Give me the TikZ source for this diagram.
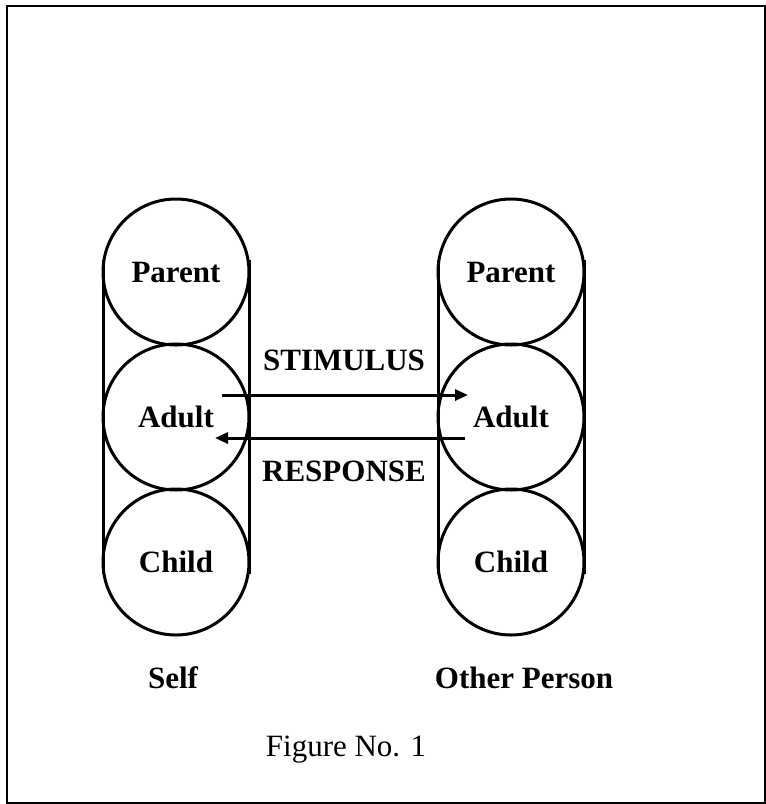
\documentclass[tikz,border=0pt]{standalone}
\usepackage{fontspec}
\setmainfont{Liberation Serif}
\usetikzlibrary{arrows.meta}
\begin{document}
\begin{tikzpicture}[x=1pt,y=-1pt,
  ego/.style={circle,draw,line width=3pt,minimum size=146pt,inner sep=0pt,outer sep=0pt,
    font=\fontsize{31}{36}\selectfont\bfseries},
  lbl/.style={font=\fontsize{31}{36}\selectfont\bfseries},
  side/.style={line width=3pt},
  arr/.style={line width=3pt,-{Triangle[length=13pt,width=11pt]}}]
\useasboundingbox (0,0) rectangle (766,804);
\draw[line width=2pt] (7,6) rectangle (765,803);
% Self column
\node[ego] (sp) at (176,272) {Parent};
\node[ego] (sa) at (176,417) {Adult};
\node[ego] (sc) at (176,562) {Child};
\draw[side] ([yshift=12pt]sp.west) -- ([yshift=-12pt]sc.west);
\draw[side] ([yshift=12pt]sp.east) -- ([yshift=-12pt]sc.east);
% Other column
\node[ego] (op) at (511,272) {Parent};
\node[ego] (oa) at (511,417) {Adult};
\node[ego] (oc) at (511,562) {Child};
\draw[side] ([yshift=12pt]op.west) -- ([yshift=-12pt]oc.west);
\draw[side] ([yshift=12pt]op.east) -- ([yshift=-12pt]oc.east);
% Transactions
\draw[arr] ([shift={(46,-22)}]sa.center) -- ([shift={(-43,-22)}]oa.center);
\draw[arr] ([shift={(-46,21)}]oa.center) -- ([shift={(39,21)}]sa.center);
\node[lbl] (stim) at (344,360) {STIMULUS};
\node[lbl] (resp) at (344,471) {RESPONSE};
% Captions
\node[lbl] (self) at (173,678) {Self};
\node[lbl] (other) at (524,678) {Other Person};
\node[font=\fontsize{31}{36}\selectfont] (fig) at (346,750) {Figure No. 1};
\end{tikzpicture}
\end{document}
